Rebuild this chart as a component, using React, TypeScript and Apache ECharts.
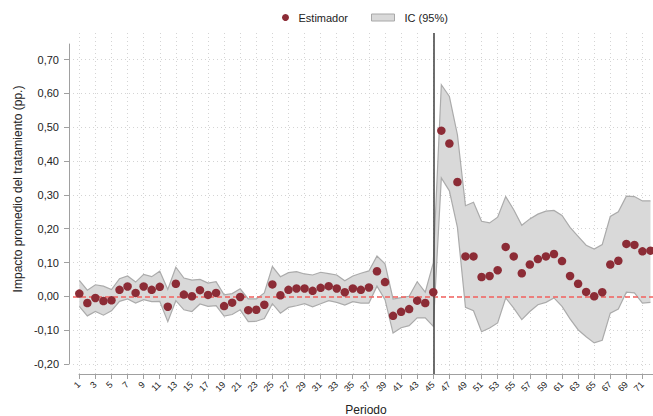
import React, { useEffect, useRef } from "react";
import * as echarts from "echarts";

const periods = [1, 2, 3, 4, 5, 6, 7, 8, 9, 10, 11, 12, 13, 14, 15, 16, 17, 18, 19, 20, 21, 22, 23, 24, 25, 26, 27, 28, 29, 30, 31, 32, 33, 34, 35, 36, 37, 38, 39, 40, 41, 42, 43, 44, 45, 46, 47, 48, 49, 50, 51, 52, 53, 54, 55, 56, 57, 58, 59, 60, 61, 62, 63, 64, 65, 66, 67, 68, 69, 70, 71, 72];

const estimador = [
  0.008, -0.02, -0.005, -0.014, -0.012, 0.019, 0.029, 0.01, 0.029, 0.019,
  0.028, -0.031, 0.037, 0.005, 0.0, 0.018, 0.004, 0.01, -0.029, -0.019,
  -0.002, -0.041, -0.04, -0.025, 0.035, 0.003, 0.019, 0.023, 0.023, 0.016,
  0.025, 0.03, 0.023, 0.012, 0.023, 0.019, 0.026, 0.074, 0.042, -0.058,
  -0.046, -0.038, -0.013, -0.02, 0.012, 0.49, 0.452, 0.338, 0.118, 0.118,
  0.057, 0.06, 0.077, 0.146, 0.118, 0.068, 0.094, 0.11, 0.118, 0.125,
  0.104, 0.06, 0.037, 0.013, 0.0, 0.012, 0.094, 0.105, 0.155, 0.152,
  0.133, 0.135,
];

const icSuperior = [
  0.047, 0.018, 0.034, 0.03, 0.02, 0.052, 0.06, 0.042, 0.065, 0.058,
  0.074, 0.02, 0.086, 0.054, 0.048, 0.05, 0.039, 0.043, 0.004, 0.008,
  0.022, -0.008, -0.008, 0.01, 0.088, 0.058, 0.07, 0.073, 0.066, 0.063,
  0.071, 0.067, 0.063, 0.046, 0.06, 0.068, 0.075, 0.119, 0.096, -0.008,
  -0.004, 0.0, 0.043, 0.012, 0.099, 0.626, 0.591, 0.478, 0.268, 0.278,
  0.222, 0.217, 0.234, 0.295, 0.256, 0.21, 0.229, 0.243, 0.252, 0.254,
  0.239, 0.204, 0.177, 0.151, 0.14, 0.153, 0.236, 0.25, 0.296, 0.295,
  0.282, 0.282,
];

const icInferior = [
  -0.03, -0.058, -0.045, -0.056, -0.043, -0.015, -0.008, -0.02, -0.01, -0.016,
  -0.015, -0.075, -0.013, -0.04, -0.045, -0.023, -0.03, -0.028, -0.059, -0.054,
  -0.04, -0.075, -0.074, -0.066, -0.022, -0.05, -0.033, -0.028, -0.022, -0.031,
  -0.022, -0.013, -0.018, -0.026, -0.016, -0.02, -0.02, 0.03, -0.01, -0.109,
  -0.093, -0.087, -0.064, -0.064, -0.089, 0.35, 0.312, 0.204, -0.033, -0.043,
  -0.105, -0.094, -0.079, -0.005, -0.035, -0.069, -0.045, -0.025, -0.018, -0.005,
  -0.03, -0.067, -0.099, -0.12, -0.138, -0.13, -0.05, -0.038, 0.012, 0.01,
  -0.02, -0.018,
];

const xTicks = [1, 3, 5, 7, 9, 11, 13, 15, 17, 19, 21, 23, 25, 27, 29, 31, 33, 35, 37, 39, 41, 43, 45, 47, 49, 51, 53, 55, 57, 59, 61, 63, 65, 67, 69, 71];
const yTicks = [-0.2, -0.1, 0.0, 0.1, 0.2, 0.3, 0.4, 0.5, 0.6, 0.7];
const periodoTratamiento = 45;

const FONT = "'Liberation Sans', Arial, Helvetica, sans-serif";
const TEXT = "#222";
const AXIS = "#a0a0a0";
const GRIDLINE = "#d4d4d4";

export default function App() {
  const ref = useRef<HTMLDivElement>(null);

  useEffect(() => {
    if (!ref.current) return;
    const chart = echarts.init(ref.current, undefined, { renderer: "svg" });

    const bandData = periods.map((p, i) => [p, icInferior[i], icSuperior[i]]);

    const option: any = {
      animation: false,
      backgroundColor: "#ffffff",
      textStyle: { fontFamily: FONT },
      legend: [
        {
          data: [{ name: "Estimador", icon: "circle" }],
          left: 282,
          top: 12,
          itemWidth: 10,
          itemHeight: 7,
          padding: 0,
          textStyle: { fontSize: 11, color: TEXT, fontFamily: FONT, padding: [0, 0, 0, 3] },
        },
        {
          data: [
            {
              name: "IC (95%)",
              icon: "rect",
              itemStyle: { color: "#d9d9d9", borderColor: "#a8a8a8", borderWidth: 1 },
            },
          ],
          left: 371,
          top: 12,
          itemWidth: 23,
          itemHeight: 7,
          padding: 0,
          textStyle: { fontSize: 11, color: TEXT, fontFamily: FONT, padding: [0, 0, 0, 5] },
        },
      ],
      grid: [
        { left: 73, right: 0, top: 33, bottom: 42, outerBoundsMode: "none", containLabel: false },
        { left: 79, right: 0, top: 44, bottom: 52, outerBoundsMode: "none", containLabel: false },
      ],
      xAxis: [
        {
          type: "value",
          gridIndex: 0,
          min: 0.217,
          max: 72.31,
          axisLine: { show: false, onZero: false },
          axisTick: { show: false, customValues: xTicks },
          axisLabel: { show: false },
          splitLine: { show: true, lineStyle: { color: GRIDLINE, type: [1, 3], width: 1 } },
        },
        {
          type: "value",
          gridIndex: 1,
          min: 1,
          max: 72.31,
          offset: 10,
          position: "bottom",
          name: "Periodo",
          nameLocation: "middle",
          nameGap: 30,
          nameTextStyle: { fontSize: 12, color: TEXT, fontFamily: FONT },
          axisLine: { show: true, onZero: false, lineStyle: { color: AXIS, width: 1 } },
          axisTick: { show: true, length: 5, customValues: xTicks, lineStyle: { color: AXIS } },
          axisLabel: {
            show: true,
            customValues: xTicks,
            rotate: 45,
            fontSize: 9,
            margin: 9,
            color: TEXT,
            fontFamily: FONT,
          },
          splitLine: { show: false },
        },
      ],
      yAxis: [
        {
          type: "value",
          gridIndex: 0,
          min: -0.23,
          max: 0.779,
          axisLine: { show: false, onZero: false },
          axisTick: { show: false, customValues: yTicks },
          axisLabel: { show: false },
          splitLine: { show: true, lineStyle: { color: GRIDLINE, type: [1, 3], width: 1 } },
        },
        {
          type: "value",
          gridIndex: 1,
          min: -0.2,
          max: 0.746,
          offset: 10,
          position: "left",
          axisLine: { show: true, onZero: false, lineStyle: { color: AXIS, width: 1 } },
          axisTick: { show: true, length: 5, customValues: yTicks, lineStyle: { color: AXIS } },
          axisLabel: {
            show: true,
            customValues: yTicks,
            fontSize: 11,
            margin: 10,
            color: TEXT,
            fontFamily: FONT,
            formatter: (v: number) => v.toFixed(2).replace(".", ","),
          },
          splitLine: { show: false },
        },
      ],
      graphic: [
        {
          type: "text",
          x: 18,
          y: 189,
          rotation: Math.PI / 2,
          style: {
            text: "Impacto promedio del tratamiento (pp.)",
            fontSize: 12,
            fill: TEXT,
            fontFamily: FONT,
            align: "center",
            verticalAlign: "middle",
          },
        },
      ],
      series: [
        {
          name: "IC (95%)",
          type: "custom",
          xAxisIndex: 0,
          yAxisIndex: 0,
          z: 1,
          data: bandData,
          itemStyle: { color: "#d9d9d9" },
          renderItem: (params: any, api: any) => {
            if (params.dataIndex !== 0) return null;
            const upperPts = periods.map((p, i) => api.coord([p, icSuperior[i]]));
            const lowerPts = periods.map((p, i) => api.coord([p, icInferior[i]]));
            const poly = upperPts.concat(lowerPts.slice().reverse());
            return {
              type: "group",
              children: [
                {
                  type: "polygon",
                  shape: { points: poly },
                  style: { fill: "#d9d9d9", stroke: "none" },
                },
                {
                  type: "polyline",
                  shape: { points: upperPts },
                  style: { fill: "none", stroke: "#ababab", lineWidth: 1.2 },
                },
                {
                  type: "polyline",
                  shape: { points: lowerPts },
                  style: { fill: "none", stroke: "#ababab", lineWidth: 1.2 },
                },
              ],
            };
          },
        },
        {
          name: "Estimador",
          type: "scatter",
          xAxisIndex: 0,
          yAxisIndex: 0,
          z: 3,
          symbol: "circle",
          symbolSize: 8.5,
          itemStyle: { color: "#8c2c36", opacity: 1 },
          data: periods.map((p, i) => [p, estimador[i]]),
          markLine: {
            silent: true,
            symbol: "none",
            z: 2,
            label: { show: false },
            data: [
              {
                yAxis: 0,
                lineStyle: { color: "#f2605e", type: [5, 3], width: 1.5 },
              },
              {
                xAxis: periodoTratamiento,
                lineStyle: { color: "#4a4a4a", type: "solid", width: 1.6 },
              },
            ],
          },
        },
      ],
    };

    chart.setOption(option);
    return () => chart.dispose();
  }, []);

  return (
    <div
      ref={ref}
      style={{ position: "absolute", left: 0, top: 0, width: 653, height: 416 }}
    />
  );
}
